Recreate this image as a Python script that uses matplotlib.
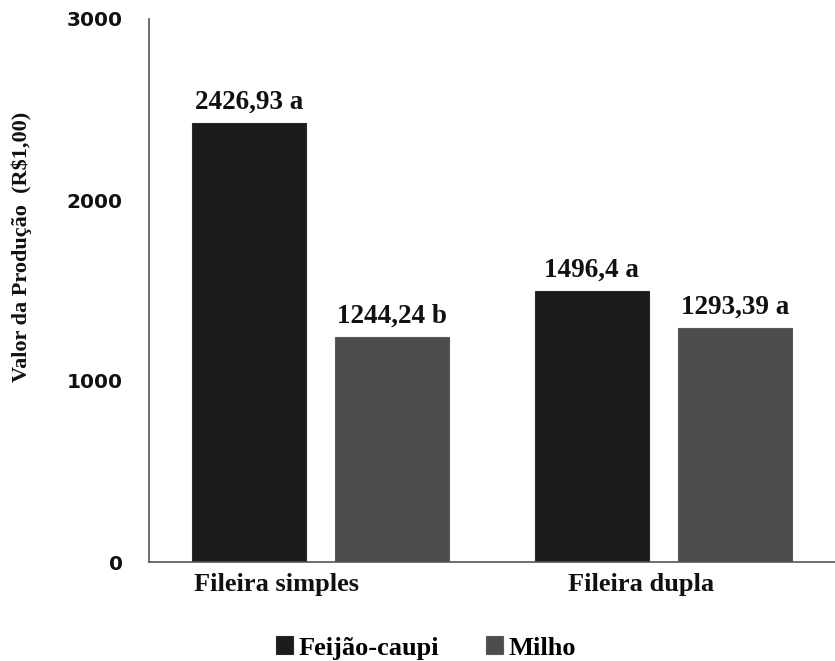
import numpy as np
import matplotlib.pyplot as plt
from matplotlib.transforms import ScaledTranslation

# data
categorias = ["Fileira simples", "Fileira dupla"]
feijao = [2426.93, 1496.4]
milho = [1244.24, 1293.39]
rotulos_feijao = ["2426,93 a", "1496,4 a"]
rotulos_milho = ["1244,24 b", "1293,39 a"]
yticks = [0, 1000, 2000, 3000]

SERIF = "Liberation Serif"
COR_F = "#1c1c1c"
COR_M = "#4c4c4c"

fig = plt.figure(figsize=(8.35, 6.61), dpi=100)
ax = fig.add_axes([149/835, 99/661, 1 - 149/835, (562 - 19)/661])

x = np.arange(len(categorias))
w = 0.333
off = 0.209
b1 = ax.bar(x - off, feijao, w, color=COR_F, edgecolor="#2a2a2a", linewidth=0.8, label="Feijão-caupi")
b2 = ax.bar(x + off, milho, w, color=COR_M, edgecolor="#5a5a5a", linewidth=0.8, label="Milho")

for bars, labs in [(b1, rotulos_feijao), (b2, rotulos_milho)]:
    for r, t in zip(bars, labs):
        ax.annotate(t, (r.get_x() + r.get_width()/2, r.get_height()),
                    xytext=(0, 6), textcoords="offset points",
                    ha="center", va="bottom", fontsize=19.5, family=SERIF,
                    fontweight="bold", color="#111111")

ax.set_xlim(-0.5, 1.5)
ax.set_ylim(0, 3000)
ax.set_yticks(yticks)
ax.set_yticklabels([str(v) for v in yticks], fontsize=14.5, fontweight="bold",
                   family="DejaVu Sans", color="#111111")
ax.tick_params(axis="y", length=0, pad=19)
ax.set_xticks(x)
ax.set_xticklabels(categorias, fontsize=19, family=SERIF, fontweight="bold", color="#111111")
ax.tick_params(axis="x", length=0, pad=8)
shifts = [-44, -22]
for lab, s in zip(ax.get_xticklabels(), shifts):
    lab.set_transform(lab.get_transform() + ScaledTranslation(s/100, 0, fig.dpi_scale_trans))

for s in ["top", "right"]:
    ax.spines[s].set_visible(False)
for s in ["left", "bottom"]:
    ax.spines[s].set_color("#555555")
    ax.spines[s].set_linewidth(1.2)

fig.text(22/835, 1 - 247/661, "Valor da Produção  (R$1,00)", rotation=90,
         ha="center", va="center", fontsize=16, family=SERIF, fontweight="bold",
         color="#111111")

fig.legend(handles=[b1, b2], loc="center", bbox_to_anchor=(426/835, 1 - 648/661),
           ncol=2, frameon=False, handlelength=0.65, handleheight=0.65,
           handletextpad=0.2, columnspacing=1.8,
           prop={"family": SERIF, "weight": "bold", "size": 19})

fig.savefig("out.png", dpi=100)
